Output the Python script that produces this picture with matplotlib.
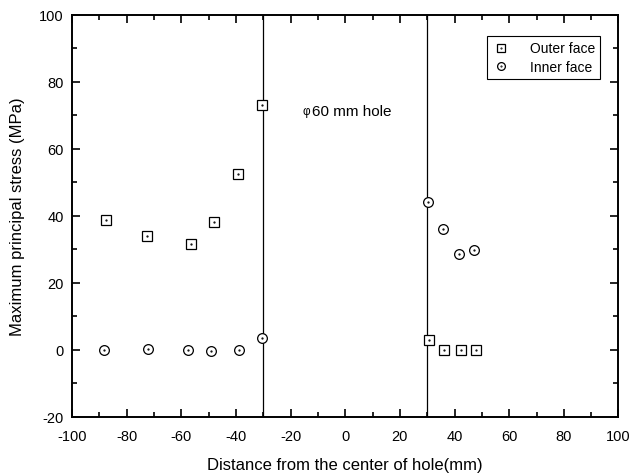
import matplotlib
matplotlib.use("Agg")
import matplotlib.pyplot as plt
from matplotlib.ticker import MultipleLocator

plt.rcParams['font.family'] = ['Liberation Sans', 'DejaVu Sans']
plt.rcParams['axes.unicode_minus'] = False

# outer face (squares)
outer_x = [-87.4, -72.6, -56.6, -48.1, -39.3, -30.6, 30.6, 36.2, 42.2, 47.9]
outer_y = [38.8, 34.0, 31.5, 38.3, 52.5, 73.2, 3.1, 0.0, -0.1, 0.1]

# inner face (circles)
inner_x = [-88.4, -72.2, -57.6, -49.3, -38.8, -30.3, 30.2, 35.8, 41.8, 47.3]
inner_y = [0.0, 0.3, 0.1, -0.4, 0.0, 3.6, 44.3, 36.0, 28.7, 29.9]

hole_edges = [-30, 30]

fig = plt.figure(figsize=(6.3, 4.77), dpi=100)
ax = fig.add_axes([0.1143, 0.1237, 0.8674, 0.8428])

for xe in hole_edges:
    ax.axvline(xe, color='black', lw=0.9, zorder=1)

mk = dict(linestyle='none', markerfacecolor='white', markeredgecolor='black',
          markeredgewidth=0.9, color='black', zorder=3)
sq, = ax.plot(outer_x, outer_y, marker='s', markersize=6.5, **mk)
ci, = ax.plot(inner_x, inner_y, marker='o', markersize=7, **mk)
# centre dots
d1, = ax.plot(outer_x, outer_y, linestyle='none', marker='.', markersize=1.2, color='black', zorder=4)
d2, = ax.plot(inner_x, inner_y, linestyle='none', marker='.', markersize=1.2, color='black', zorder=4)

ax.text(-15.5, 71.3, '\u03c6', fontsize=8.5, va='center', ha='left')
ax.text(-12.0, 71.3, '60 mm hole', fontsize=11, va='center', ha='left')

ax.set_xlim(-100, 100)
ax.set_ylim(-20, 100)
ax.xaxis.set_major_locator(MultipleLocator(20))
ax.xaxis.set_minor_locator(MultipleLocator(10))
ax.yaxis.set_major_locator(MultipleLocator(20))
ax.yaxis.set_minor_locator(MultipleLocator(10))
ax.tick_params(which='both', direction='in', top=True, right=True, labelsize=10.5, width=1.2)
ax.tick_params(which='major', length=6)
ax.tick_params(which='minor', length=3.5)
ax.tick_params(axis='x', pad=9)
ax.tick_params(axis='y', pad=6)
for s in ax.spines.values():
    s.set_linewidth(1.4)

ax.set_xlabel('Distance from the center of hole(mm)', fontsize=12, labelpad=10)
ax.set_ylabel('Maximum principal stress (MPa)', fontsize=12, labelpad=10)

leg = ax.legend([(sq, d1), (ci, d2)], ['Outer face', 'Inner face'],
                loc='upper right', bbox_to_anchor=(0.967, 0.948), fontsize=10,
                fancybox=False, edgecolor='black', framealpha=1,
                handlelength=1.3, handletextpad=1.4, borderpad=0.4,
                labelspacing=0.3, markerscale=0.8, borderaxespad=0)
leg.get_frame().set_linewidth(0.8)

fig.savefig('out.png', dpi=100)
